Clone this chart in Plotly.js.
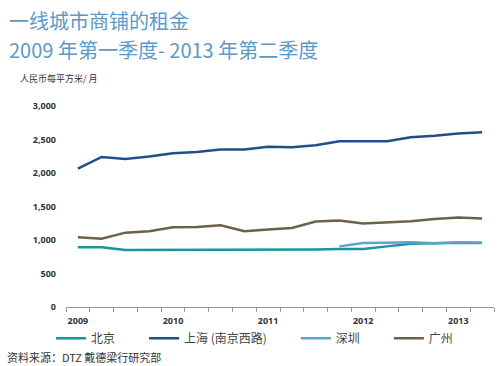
<!DOCTYPE html>
<html><head><meta charset="utf-8">
<script src="https://cdn.plot.ly/plotly-3.0.1.min.js"></script>
<style>html,body{margin:0;padding:0;background:#fff}#c{width:500px;height:366px}</style>
</head><body><div id="c"></div>
<script>
var quarters = ['2009Q1','2009Q2','2009Q3','2009Q4','2010Q1','2010Q2','2010Q3','2010Q4','2011Q1','2011Q2','2011Q3','2011Q4','2012Q1','2012Q2','2012Q3','2012Q4','2013Q1','2013Q2'];
var beijing   = [890, 890, 850, 850, 860, 860, 860, 860, 860, 860, 860, 865, 865, 905, 945, 950, 960, 955];
var shanghai  = [2065, 2240, 2210, 2245, 2295, 2315, 2350, 2350, 2390, 2385, 2415, 2475, 2475, 2475, 2535, 2555, 2590, 2610];
var shenzhen  = [null, null, null, null, null, null, null, null, null, null, null, 905, 955, 960, 965, 950, 965, 960];
var guangzhou = [1040, 1020, 1110, 1130, 1190, 1195, 1220, 1130, 1155, 1180, 1275, 1290, 1245, 1260, 1280, 1315, 1335, 1320];
var seriesNames = ['北京', '上海 (南京西路)', '深圳', '广州'];
var yTicks = [0, 500, 1000, 1500, 2000, 2500, 3000];
var xTickText = quarters.map(function(q){ return q.slice(4) === 'Q1' ? q.slice(0,4) : ''; });
var titleLines = ['一线城市商铺的租金', '2009 年第一季度- 2013 年第二季度'];

var CJK = 'Noto Sans CJK SC, Noto Sans, sans-serif';
var LAT = 'Noto Sans, Noto Sans CJK SC, sans-serif';
var pad = '\u3000\u3000';

function tr(y, name, color){
  return {x: quarters, y: y, name: name, type: 'scatter', mode: 'lines',
    line: {color: color, width: 2.5}, connectgaps: false};
}
var data = [
  tr(beijing, seriesNames[0] + pad, '#1a959b'),
  tr(shanghai, seriesNames[1] + pad, '#1f4e8a'),
  tr(shenzhen, seriesNames[2] + pad, '#5aa3cf'),
  tr(guangzhou, seriesNames[3], '#6e6149')
];

var layout = {
  width: 500, height: 366,
  margin: {l: 66, r: 6, t: 106, b: 58.5},
  paper_bgcolor: '#fff', plot_bgcolor: '#fff',
  showlegend: true,
  xaxis: {type: 'category', range: [-0.5, 17.5], tickvals: quarters, ticktext: xTickText,
    tickson: 'boundaries', ticks: 'outside', ticklen: 4, tickcolor: '#999', tickwidth: 1,
    showline: true, linecolor: '#999', linewidth: 1, showgrid: false, zeroline: false,
    ticklabelstandoff: 5,
    tickfont: {family: LAT, size: 9, color: '#333', weight: 'bold'}, tickangle: 0},
  yaxis: {range: [0, 3000], tickvals: yTicks, tickformat: ',d', showgrid: false, zeroline: false,
    showline: false, ticks: '', ticklabelstandoff: 9,
    tickfont: {family: LAT, size: 9, color: '#333', weight: 'bold'}},
  legend: {orientation: 'h', x: -0.035, xanchor: 'left', y: -0.083, yanchor: 'top',
    font: {family: CJK, size: 12, color: '#444'}, traceorder: 'normal', bgcolor: 'rgba(0,0,0,0)'},
  annotations: [
    {text: titleLines[0], xref: 'paper', yref: 'paper', x: -0.1355, xanchor: 'left', borderpad: 0,
      y: 1.4243, yanchor: 'middle', showarrow: false, font: {family: CJK, size: 20, color: '#5b9ac6'}},
    {text: titleLines[1], xref: 'paper', yref: 'paper', x: -0.1355, xanchor: 'left', borderpad: 0,
      y: 1.2804, yanchor: 'middle', showarrow: false, font: {family: CJK, size: 20, color: '#5b9ac6'}},
    {text: '人民币每平方米/ 月', xref: 'paper', yref: 'paper', x: -0.113, xanchor: 'left',
      y: 1.135, yanchor: 'middle', showarrow: false, font: {family: CJK, size: 9, color: '#333'}},
    {text: '资料来源：DTZ 戴德梁行研究部', xref: 'paper', yref: 'paper', x: -0.142, xanchor: 'left',
      y: -0.248, yanchor: 'middle', showarrow: false, font: {family: CJK, size: 11, color: '#333'}}
  ]
};
Plotly.newPlot('c', data, layout, {displayModeBar: false, staticPlot: true});
</script></body></html>
